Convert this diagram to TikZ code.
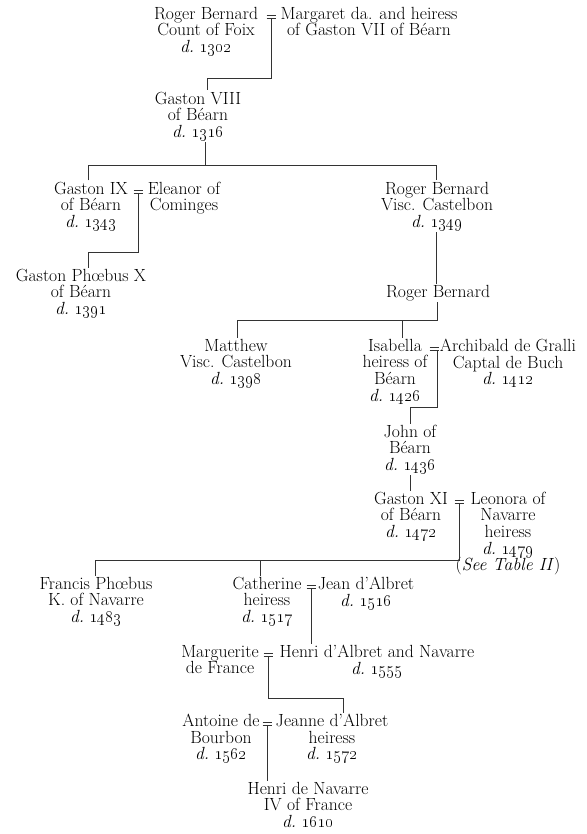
\documentclass[tikz,border=0pt]{standalone}
\usetikzlibrary{calc}
\newcommand{\died}[1]{\textit{d.}~\oldstylenums{#1}}
\begin{document}
\begin{tikzpicture}[x=1pt,y=-1pt,
  person/.style={anchor=north, align=center, inner sep=1.5pt, outer sep=0pt,
    font=\fontsize{17.6}{16.6}\selectfont, text=black},
  link/.style={draw=black!80, line width=0.85pt},
  marr/.style={minimum width=9pt, minimum height=3.2pt, inner sep=0pt, outer sep=0pt},
  eqline/.style={draw=black!80, line width=0.7pt},
]
\useasboundingbox (0,0) rectangle (586,834);
\fill[white] (0,0) rectangle (586,834);

% people
\node[person] (rb1) at (206,5.5) {Roger Bernard\\Count of Foix\\\died{1302}};
\node[person] (marg) at (369,5.5) {Margaret da. and heiress\\of Gaston VII of Béarn};
\node[marr] (m1) at (271,17) {};
\node[person] (g8) at (198,90.5) {Gaston VIII\\of Béarn\\\died{1316}};
\node[person] (g9) at (91,180.5) {Gaston IX\\of Béarn\\\died{1343}};
\node[marr] (m2) at (138,192) {};
\node[person] (ele) at (184,180.5) {Eleanor of\\Cominges};
\node[person] (rb2) at (437,180.5) {Roger Bernard\\Visc. Castelbon\\\died{1349}};
\node[person] (gpx) at (81,267.5) {Gaston Phœbus X\\of Béarn\\\died{1391}};
\node[person] (rb3) at (438,283.5) {Roger Bernard};
\node[person] (mat) at (236,337.5) {Matthew\\Visc. Castelbon\\\died{1398}};
\node[person] (isa) at (395,337.5) {Isabella\\heiress of\\Béarn\\\died{1426}};
\node[marr] (m3) at (434,349) {};
\node[person] (arc) at (508,337.5) {Archibald de Gralli\\Captal de Buch\\\died{1412}};
\node[person] (john) at (410,423.5) {John of\\Béarn\\\died{1436}};
\node[person] (g11) at (411,490.5) {Gaston XI\\of Béarn\\\died{1472}};
\node[marr] (m4) at (459,502) {};
\node[person] (leo) at (508,490.5) {Leonora of\\Navarre\\heiress\\\died{1479}\\(\textit{See Table II})};
\node[person] (fra) at (96,575.5) {Francis Phœbus\\K. of Navarre\\\died{1483}};
\node[person] (cat) at (267,575.5) {Catherine\\heiress\\\died{1517}};
\node[marr] (m5) at (311,587) {};
\node[person] (jean) at (366,575.5) {Jean d'Albret\\\died{1516}};
\node[person] (marg2) at (220,643.5) {Marguerite\\de France};
\node[marr] (m6) at (268,655) {};
\node[person] (hen) at (377,643.5) {Henri d'Albret and Navarre\\\died{1555}};
\node[person] (ant) at (221,712.5) {Antoine de\\Bourbon\\\died{1562}};
\node[marr] (m7) at (267,724) {};
\node[person] (jea) at (332,712.5) {Jeanne d'Albret\\heiress\\\died{1572}};
\node[person] (h4) at (308,780.5) {Henri de Navarre\\IV of France\\\died{1610}};

% marriage signs
\foreach \m in {m1,m2,m3,m4,m5,m6,m7} {
  \draw[eqline] (\m.north west) -- (\m.north east);
  \draw[eqline] (\m.south west) -- (\m.south east);
}

% junctions
\coordinate (j1) at (207,78);
\coordinate (j2) at (205,165);
\coordinate (a) at (88,165);
\coordinate (b) at (436,165);
\coordinate (c1) at (138,252);
\coordinate (c2) at (88,252);
\coordinate (e1) at (437,320);
\coordinate (e2) at (237,320);
\coordinate (e3) at (402,320);
\coordinate (f1) at (437,407);
\coordinate (f2) at (410,407);
\coordinate (g1) at (459,560);
\coordinate (g2) at (95,560);
\coordinate (g3) at (260,560);
\coordinate (h1) at (268,698);
\coordinate (h2) at (343,698);

% connectors
\draw[link] (m1.south) -- (m1.south |- j1) -- (j1) -- (j1 |- g8.north);
\draw[link] (g8.south -| j2) -- (j2);
\draw[link] (a |- g9.north) -- (a) -- (b) -- (b |- rb2.north);
\draw[link] (m2.south) -- (c1) -- (c2) -- (c2 |- gpx.north);
\draw[link] (rb2.south -| b) -- (b |- rb3.north);
\draw[link] (rb3.south -| e1) -- (e1) -- (e2) -- (e2 |- mat.north);
\draw[link] (e3) -- (e3 |- isa.north);
\draw[link] (m3.south -| f1) -- (f1) -- (f2) -- (f2 |- john.north);
\draw[link] (john.south -| f2) -- (f2 |- g11.north);
\draw[link] (m4.south) -- (g1) -- (g2) -- (g2 |- fra.north);
\draw[link] (g3) -- (g3 |- cat.north);
\draw[link] (m5.south) -- (m5.south |- hen.north);
\draw[link] (m6.south) -- (h1) -- (h2) -- (h2 |- jea.north);
\draw[link] (m7.south) -- (m7.south |- h4.north);
\end{tikzpicture}
\end{document}
